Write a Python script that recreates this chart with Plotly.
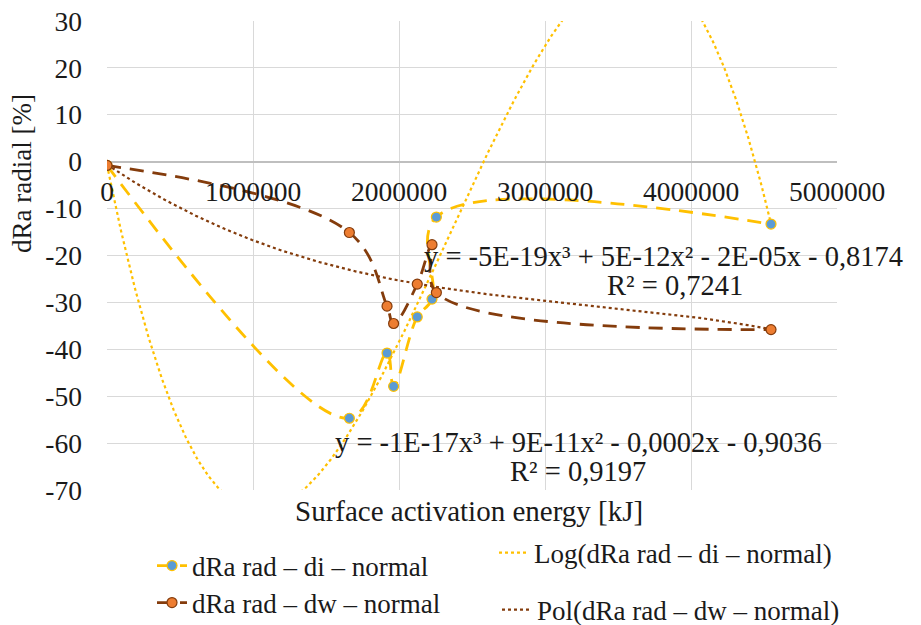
import numpy as np
import plotly.graph_objects as go

# ---- data ----
energy_kj = [0, 1660000, 1918000, 1963000, 2125000, 2226000, 2256000, 4548000]
dra_di = [-0.8, -54.7, -40.8, -47.9, -33.1, -29.3, -11.8, -13.3]
dra_dw = [-0.8, -15.1, -30.8, -34.5, -26.1, -17.7, -27.9, -35.8]

name_di = "dRa rad \u2013 di \u2013 normal"
name_dw = "dRa rad \u2013 dw \u2013 normal"
name_fit_di = "Log(dRa rad \u2013 di \u2013 normal)"
name_fit_dw = "Pol(dRa rad \u2013 dw \u2013 normal)"
eq_di = ["y = -1E-17x\u00b3 + 9E-11x\u00b2 - 0,0002x - 0,9036", "R\u00b2 = 0,9197"]
eq_dw = ["y = -5E-19x\u00b3 + 5E-12x\u00b2 - 2E-05x - 0,8174", "R\u00b2 = 0,7241"]

x_ticks = [0, 1000000, 2000000, 3000000, 4000000, 5000000]
y_ticks = [30, 20, 10, 0, -10, -20, -30, -40, -50, -60, -70]

# ---- cubic trendlines fitted to the data (as the spreadsheet does) ----
xa = np.array(energy_kj, dtype=float)
xfit = np.linspace(xa.min(), xa.max(), 600)
fit_di = np.polyval(np.polyfit(xa, np.array(dra_di), 3), xfit)
fit_dw = np.polyval(np.polyfit(xa, np.array(dra_dw), 3), xfit)

FONT = "Liberation Serif"
TXT = "#1a1a1a"
YELLOW = "#FFC000"
BLUE = "#5B9BD5"
BROWN = "#843C0C"
ORANGE = "#ED7D31"

fig = go.Figure()
fig.add_trace(go.Scatter(
    x=xfit, y=fit_di, mode="lines", name=name_fit_di, legend="legend3",
    line=dict(color=YELLOW, width=2.2, dash="dot"), hoverinfo="skip"))
fig.add_trace(go.Scatter(
    x=xfit, y=fit_dw, mode="lines", name=name_fit_dw, legend="legend4",
    line=dict(color=BROWN, width=2.2, dash="dot"), hoverinfo="skip"))
fig.add_trace(go.Scatter(
    x=energy_kj, y=dra_di, mode="lines+markers", name=name_di, legend="legend",
    line=dict(color=YELLOW, width=2.8, dash="14px,9px", shape="spline", smoothing=1.1),
    marker=dict(color=BLUE, size=10, line=dict(color=YELLOW, width=1.2))))
fig.add_trace(go.Scatter(
    x=energy_kj, y=dra_dw, mode="lines+markers", name=name_dw, legend="legend2",
    line=dict(color=BROWN, width=2.8, dash="14px,9px", shape="spline", smoothing=1.1),
    marker=dict(color=ORANGE, size=10, line=dict(color=BROWN, width=1.2))))

# page body has an 8px margin: work in screen pixels, subtract the offset
OFF = 8
W, H = 921 - OFF, 625 - OFF
L, R, T, B = 107 - OFF, 921 - 837, 21 - OFF, 625 - 490
pw, ph = W - L - R, H - T - B


def px(xp):
    return (xp - OFF - L) / pw


def py(yp):
    return (H - B - (yp - OFF)) / ph


legend_common = dict(font=dict(family=FONT, size=27, color=TXT), bgcolor="rgba(0,0,0,0)",
                     xanchor="left", yanchor="middle", orientation="v")

fig.update_layout(
    width=W, height=H,
    margin=dict(l=L, r=R, t=T, b=B, autoexpand=False),
    paper_bgcolor="white", plot_bgcolor="white",
    font=dict(family=FONT, size=27, color=TXT),
    showlegend=True,
    legend=dict(x=px(152), y=py(566), **legend_common),
    legend2=dict(x=px(152), y=py(603), **legend_common),
    legend3=dict(x=px(494), y=py(553), **legend_common),
    legend4=dict(x=px(497), y=py(610), **legend_common),
    xaxis=dict(range=[0, 5000000], tickvals=x_ticks, ticktext=[str(v) for v in x_ticks],
               showgrid=True, gridcolor="#D9D9D9", gridwidth=1.3, zeroline=False,
               anchor="free", position=0.7, ticks="", showline=False,
               ticklabelstandoff=11, ticklabeloverflow="allow",
               tickfont=dict(family=FONT, size=27.5, color=TXT)),
    yaxis=dict(range=[-70, 30], tickvals=y_ticks, ticktext=[str(v) for v in y_ticks],
               showgrid=True, gridcolor="#D9D9D9", gridwidth=1.3,
               zeroline=True, zerolinecolor="#BFBFBF", zerolinewidth=1.5,
               ticks="", ticklabelstandoff=24, showline=False, ticklabeloverflow="allow",
               tickfont=dict(family=FONT, size=27.5, color=TXT)),
)

ann = [
    (px(469), py(511), "Surface activation energy [kJ]", 0, 29),
    (px(22), py(174), "dRa radial [%]", -90, 27),
    (px(663), py(256), eq_dw[0], 0, 28.5),
    (px(675), py(286), eq_dw[1], 0, 28.5),
    (px(578), py(442), eq_di[0], 0, 28.5),
    (px(578), py(471), eq_di[1], 0, 28.5),
]
for ax_, ay_, t, ang, fs in ann:
    fig.add_annotation(x=ax_, y=ay_, xref="paper", yref="paper", text=t, showarrow=False,
                       textangle=ang, xanchor="center", yanchor="middle",
                       font=dict(family=FONT, size=fs, color=TXT))

fig.write_html("out.html")
